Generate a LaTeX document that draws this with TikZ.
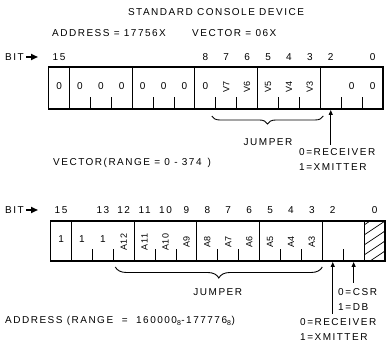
\documentclass[tikz,border=0pt]{standalone}
\usepackage{fontspec}
\setmainfont{Liberation Sans}[LetterSpace=15]
\newfontfamily\rotfont{Liberation Sans}[LetterSpace=6]
\usetikzlibrary{decorations.pathreplacing,arrows.meta}
\tikzset{
  lbl/.style={inner sep=0pt, font=\fontsize{10}{11}\selectfont},
  regbox/.style={draw, line width=1.3pt},
  divline/.style={line width=1pt},
  tickline/.style={line width=0.9pt},
  jbrace/.style={decorate, decoration={brace, mirror, amplitude=8pt}, line width=0.9pt},
  ptr/.style={line width=1.1pt, -{Triangle[length=5pt,width=4pt]}},
  bitptr/.style={line width=1.6pt, -{Triangle[length=7pt,width=6pt]}},
  rot/.style={inner sep=0pt, font=\fontsize{9}{10}\selectfont\rotfont, rotate=90},
}
\begin{document}
\begin{tikzpicture}[x=1pt,y=-1pt]
\useasboundingbox (0,0) rectangle (386,344);
\def\w{20.9}
% ---------- header ----------
\node[lbl] (title) at (216,12) {STANDARD CONSOLE DEVICE};
\node[lbl, anchor=west] (addr) at (52,33) {ADDRESS = 17756X};
\node[lbl, anchor=west] (vec) at (192,33) {VECTOR = 06X};
% ---------- top register ----------
\def\xa{48.6}
\node[lbl, anchor=west] (bitA) at (5,57) {BIT};
\coordinate (bitAs) at (26,57);
\coordinate (bitAe) at (38,57);
\draw[bitptr] (bitAs) -- (bitAe);
\foreach \b in {15,8,7,6,5,4,3,2,0}
  \node[lbl] (na\b) at ({\xa+(15-\b+0.5)*\w},57) {\b};
\path[regbox] (\xa,67) rectangle ({\xa+16*\w},109);
\foreach \k in {1,4,7,10,13}
  \draw[divline] ({\xa+\k*\w},67) -- ({\xa+\k*\w},109);
\foreach \k in {2,3,5,6,8,9,11,12,14,15}
  \draw[tickline] ({\xa+\k*\w},109) -- ({\xa+\k*\w},97);
\foreach \b in {15,14,13,12,11,10,9,8,1,0}
  \node[lbl] (za\b) at ({\xa+(15-\b+0.5)*\w},86) {0};
\foreach \b in {7,6,5,4,3}
  \node[rot] (va\b) at ({\xa+(15-\b+0.5)*\w},87) {V\b};
\coordinate (bja) at ({\xa+8*\w-4},116);
\coordinate (bjb) at ({\xa+13*\w+3},116);
\draw[jbrace] (bja) -- (bjb);
\node[lbl] (jumpA) at ({\xa+10.5*\w},142) {JUMPER};
\node[lbl, anchor=west] (rangeA) at (53,163) {VECTOR(RANGE = 0 - 374 \,)};
\node[lbl, anchor=west] (recA) at (299,152) {0=RECEIVER};
\node[lbl, anchor=west] (xmA) at (299,167) {1=XMITTER};
\coordinate (pA1) at ({\xa+13.5*\w},145);
\coordinate (pA2) at ({\xa+13.5*\w},110);
\draw[ptr] (pA1) -- (pA2);
% ---------- bottom register ----------
\def\xb{50.6}
\node[lbl, anchor=west] (bitB) at (5,210) {BIT};
\coordinate (bitBs) at (26,210);
\coordinate (bitBe) at (38,210);
\draw[bitptr] (bitBs) -- (bitBe);
\foreach \b in {15,13,12,11,10,9,8,7,6,5,4,3,2,0}
  \node[lbl] (nb\b) at ({\xb+(15-\b+0.5)*\w},210) {\b};
\begin{scope}
  \clip ({\xb+15*\w},221) rectangle ({\xb+16*\w},261);
  \foreach \t in {-10,0,...,60}
    \draw[line width=0.7pt] ({\xb+15*\w},{221+\t+14}) -- ({\xb+16*\w},{221+\t});
\end{scope}
\path[regbox] (\xb,221) rectangle ({\xb+16*\w},261);
\foreach \k in {1,4,7,10,13,15}
  \draw[divline] ({\xb+\k*\w},221) -- ({\xb+\k*\w},261);
\foreach \k in {2,3,5,6,8,9,11,12,14}
  \draw[tickline] ({\xb+\k*\w},261) -- ({\xb+\k*\w},249);
\foreach \b in {15,14,13}
  \node[lbl] (ob\b) at ({\xb+(15-\b+0.5)*\w},239) {1};
\foreach \b in {12,11,10,9,8,7,6,5,4,3}
  \node[rot] (ab\b) at ({\xb+(15-\b+0.5)*\w},242) {A\b};
\coordinate (bjc) at ({\xb+3*\w+2},267);
\coordinate (bjd) at ({\xb+13*\w},267);
\draw[jbrace, decoration={amplitude=11pt}] (bjc) -- (bjd);
\node[lbl] (jumpB) at ({\xb+8*\w},292) {JUMPER};
\node[lbl, anchor=west] (rangeB) at (5,321) {ADDRESS (RANGE \ = \ 160000\textsubscript{8}-177776\textsubscript{8})};
\node[lbl, anchor=west] (csr) at (338,292) {0\,=\,CSR};
\node[lbl, anchor=west] (db) at (338,307) {1\,=\,DB};
\node[lbl, anchor=west] (recB) at (300,322) {0=RECEIVER};
\node[lbl, anchor=west] (xmB) at (300,337) {1=XMITTER};
\coordinate (pB1) at ({\xb+13.5*\w},314);
\coordinate (pB2) at ({\xb+13.5*\w},262);
\draw[ptr] (pB1) -- (pB2);
\coordinate (pC1) at ({\xb+14.5*\w},283);
\coordinate (pC2) at ({\xb+14.5*\w},262);
\draw[ptr] (pC1) -- (pC2);
\end{tikzpicture}
\end{document}
